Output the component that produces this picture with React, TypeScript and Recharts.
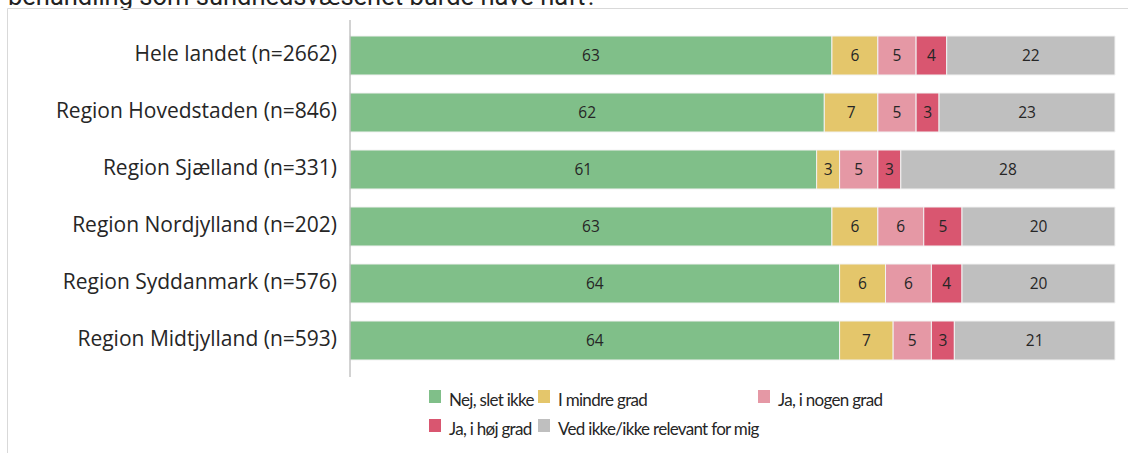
import React from 'react';
import { BarChart, Bar, XAxis, YAxis, LabelList } from 'recharts';

const regions = [
  'Hele landet (n=2662)',
  'Region Hovedstaden (n=846)',
  'Region Sjælland (n=331)',
  'Region Nordjylland (n=202)',
  'Region Syddanmark (n=576)',
  'Region Midtjylland (n=593)',
];

const nejSletIkke = [63, 62, 61, 63, 64, 64];
const iMindreGrad = [6, 7, 3, 6, 6, 7];
const jaINogenGrad = [5, 5, 5, 6, 6, 5];
const jaIHoejGrad = [4, 3, 3, 5, 4, 3];
const vedIkke = [22, 23, 28, 20, 20, 21];

const seriesInfo = [
  { key: 'nej', name: 'Nej, slet ikke', color: '#80BF89' },
  { key: 'mindre', name: 'I mindre grad', color: '#E4C66B' },
  { key: 'nogen', name: 'Ja, i nogen grad', color: '#E598A5' },
  { key: 'hoej', name: 'Ja, i høj grad', color: '#D95670' },
  { key: 'vedikke', name: 'Ved ikke/ikke relevant for mig', color: '#BFBFBF' },
];

const chartData = regions.map((region, i) => ({
  region,
  nej: nejSletIkke[i],
  mindre: iMindreGrad[i],
  nogen: jaINogenGrad[i],
  hoej: jaIHoejGrad[i],
  vedikke: vedIkke[i],
}));

const FONT = '"Open Sans", sans-serif';
const LEGEND_FONT = 'Lato, sans-serif';

// legend spots: two rows, three columns like the original
const legendSpots = [
  { idx: 0, x: 429, y: 390 },
  { idx: 1, x: 538, y: 390 },
  { idx: 2, x: 758, y: 390 },
  { idx: 3, x: 429, y: 419 },
  { idx: 4, x: 538, y: 419 },
];

const App: React.FC = () => {
  return (
    <div style={{ position: 'absolute', left: 0, top: 0, width: 1128, height: 453, background: '#fff', overflow: 'hidden' }}>
      <div style={{ position: 'absolute', left: 0, top: 0 }}>
        <BarChart
          width={1128}
          height={453}
          data={chartData}
          layout="vertical"
          margin={{ top: 20, right: 13, bottom: 76, left: 10 }}
          barSize={39}
        >
          <XAxis type="number" domain={[0, 100]} hide />
          <YAxis
            type="category"
            dataKey="region"
            width={340}
            padding={{ top: 7, bottom: 8 }}
            axisLine={{ stroke: '#a6a6a6' }}
            tickLine={false}
            tickSize={0}
            tickMargin={13}
            dy={-2}
            tick={{ fontSize: 21, fill: '#262626', fontFamily: FONT }}
          />
          {seriesInfo.map(s => (
            <Bar
              key={s.key}
              dataKey={s.key}
              name={s.name}
              stackId="a"
              fill={s.color}
              stroke="#f2f2f2"
              strokeWidth={1}
              isAnimationActive={false}
            >
              <LabelList
                dataKey={s.key}
                position="center"
                fontSize={15.5}
                fontFamily={FONT}
                fill="#262626"
              />
            </Bar>
          ))}
        </BarChart>
      </div>
      <svg width={1128} height={453} style={{ position: 'absolute', left: 0, top: 0, pointerEvents: 'none' }}>
        {/* title, mostly cut off at the top like in the original */}
        <text x={8} y={5} fontFamily="Roboto, sans-serif" fontSize={25.5} fill="#222">
          behandling som sundhedsvæsenet burde have haft?
        </text>
        {/* frame */}
        <line x1={7.5} y1={8.5} x2={1128} y2={8.5} stroke="#d9d9d9" />
        <line x1={7.5} y1={8.5} x2={7.5} y2={453} stroke="#d9d9d9" />
        {/* legend */}
        {legendSpots.map(spot => {
          const s = seriesInfo[spot.idx];
          return (
            <g key={s.key}>
              <rect x={spot.x} y={spot.y} width={12} height={13} fill={s.color} />
              <text
                x={spot.x + 20}
                y={spot.y + 16}
                fontFamily={LEGEND_FONT}
                fontSize={17}
                letterSpacing={-0.7}
                fill="#262626"
              >
                {s.name}
              </text>
            </g>
          );
        })}
      </svg>
    </div>
  );
};

export default App;
